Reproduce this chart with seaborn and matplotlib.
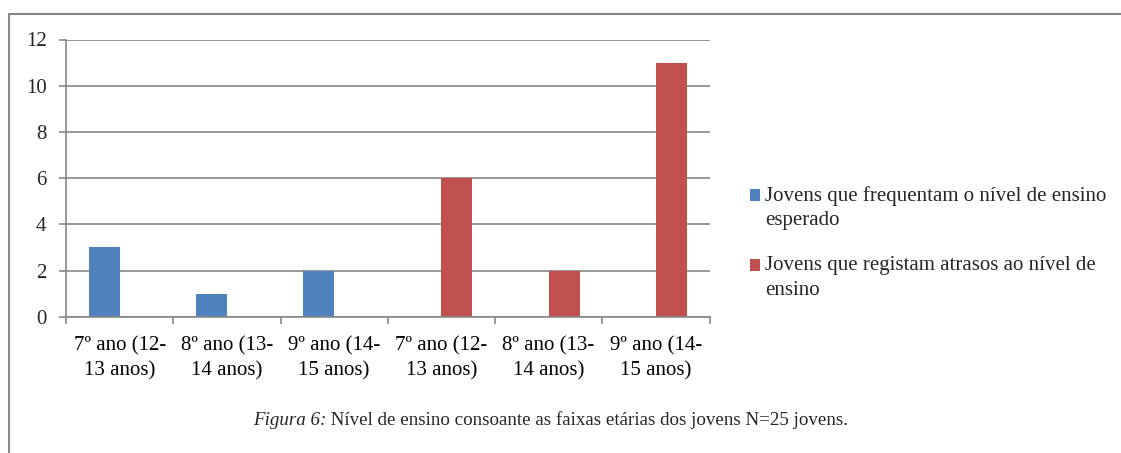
import matplotlib
matplotlib.use("Agg")
import matplotlib.pyplot as plt
import seaborn as sns
import pandas as pd
from matplotlib.lines import Line2D
from matplotlib.patches import Rectangle
from matplotlib.legend_handler import HandlerPatch

# ---- data ----
categorias = ["7º ano (12-\n13 anos)", "8º ano (13-\n14 anos)", "9º ano (14-\n15 anos)",
              "7º ano (12-\n13 anos)", "8º ano (13-\n14 anos)", "9º ano (14-\n15 anos)"]
serie_nomes = ["Jovens que frequentam o nível de ensino\nesperado",
               "Jovens que registam atrasos ao nível de\nensino"]
esperado = [3, 1, 2, 0, 0, 0]
atrasos = [0, 0, 0, 6, 2, 11]
y_ticks = [0, 2, 4, 6, 8, 10, 12]
legenda_titulo = "Figura 6:"
legenda_texto = " Nível de ensino consoante as faixas etárias dos jovens N=25 jovens."

cores = ["#4F81BD", "#C0504D"]
grid_col = "#878787"

sns.set_theme(style="white")
plt.rcParams["font.family"] = ["Liberation Serif", "DejaVu Serif"]
FS = 15
FS_CAP = 13.7

rows = []
for i in range(len(categorias)):
    rows.append({"pos": i, "serie": serie_nomes[0], "valor": esperado[i]})
    rows.append({"pos": i, "serie": serie_nomes[1], "valor": atrasos[i]})
df = pd.DataFrame(rows)

fig = plt.figure(figsize=(11.21, 4.53), dpi=100)
ax = fig.add_axes([66 / 1121, 1 - 316.7 / 453, (709.5 - 66) / 1121, (316.7 - 39.5) / 453])

sns.barplot(data=df, x="pos", y="valor", hue="serie", hue_order=serie_nomes,
            palette=cores, width=0.58, errorbar=None, linewidth=0, ax=ax,
            saturation=1)

ax.set_ylim(0, 12)
ax.set_xlim(-0.5, len(categorias) - 0.5)
ax.set_yticks(y_ticks)
ax.set_yticklabels([str(v) for v in y_ticks], fontsize=FS)
ax.set_xticks(range(len(categorias)))
ax.set_xticklabels(categorias, fontsize=FS, linespacing=1.4)
ax.set_xticks([i - 0.5 for i in range(len(categorias) + 1)], minor=True)
ax.tick_params(axis="x", which="major", length=0, pad=14, colors="black")
ax.tick_params(axis="x", which="minor", length=5, width=1.2, color=grid_col, direction="out", bottom=True)
ax.tick_params(axis="y", which="major", length=5, width=1.2, color=grid_col, direction="out", left=True, pad=9)
ax.set_xlabel("")
ax.set_ylabel("")
ax.yaxis.grid(True, color=grid_col, linewidth=1.2)
ax.set_axisbelow(True)
for s in ["top", "right"]:
    ax.spines[s].set_visible(False)
for s in ["left", "bottom"]:
    ax.spines[s].set_color(grid_col)
    ax.spines[s].set_linewidth(1.2)


def top_square(legend, orig_handle, xdescent, ydescent, width, height, fontsize):
    # square aligned with the first line of a two-line label
    return Rectangle((-xdescent, -ydescent + 0.6 * fontsize), width, height)


# legend
handles, labels = ax.get_legend_handles_labels()
ax.legend_.remove()
leg = fig.legend(handles, labels, loc="center left", bbox_to_anchor=(750 / 1121, 1 - 243 / 453),
                 frameon=False, fontsize=FS, handlelength=0.5, handleheight=0.5,
                 handletextpad=0.24, labelspacing=1.25, borderpad=0, borderaxespad=0,
                 handler_map={Rectangle: HandlerPatch(patch_func=top_square)})
for t in leg.get_texts():
    t.set_linespacing(1.4)

# caption
t1 = fig.text(253 / 1121, 1 - 425 / 453, legenda_titulo, fontsize=FS_CAP, style="italic",
              ha="left", va="baseline")
ax.annotate(legenda_texto, xy=(1, 0), xycoords=t1, fontsize=FS_CAP, ha="left", va="bottom",
            annotation_clip=False)

# frame lines (top and left)
fig.add_artist(Line2D([9 / 1121, 1], [1 - 13.5 / 453, 1 - 13.5 / 453], transform=fig.transFigure,
                      color=grid_col, linewidth=1.5))
fig.add_artist(Line2D([9 / 1121, 9 / 1121], [0, 1 - 13.5 / 453], transform=fig.transFigure,
                      color=grid_col, linewidth=1.5))

fig.savefig("out.png", dpi=100, facecolor="white")
